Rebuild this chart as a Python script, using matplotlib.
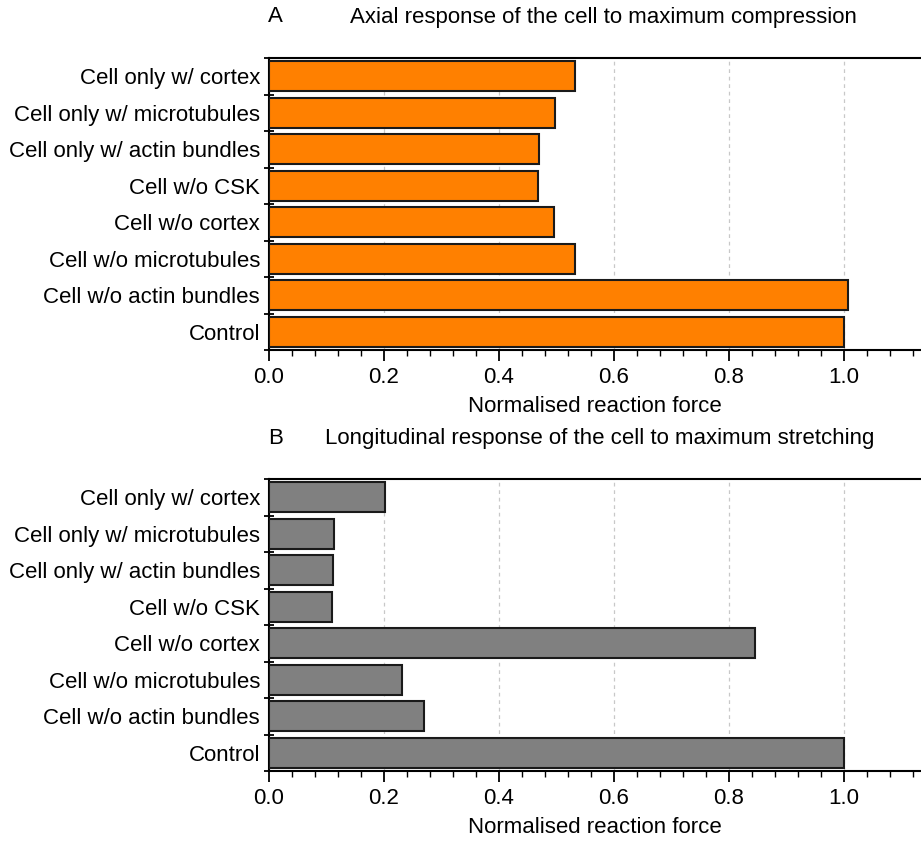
import numpy as np
import matplotlib
matplotlib.use("Agg")
import matplotlib.pyplot as plt
from matplotlib.ticker import MultipleLocator, FixedLocator

plt.rcParams['font.family'] = ['Liberation Sans', 'DejaVu Sans']

# categories, bottom to top
categories = ['Control', 'Cell w/o actin bundles', 'Cell w/o microtubules',
              'Cell w/o cortex', 'Cell w/o CSK', 'Cell only w/ actin bundles',
              'Cell only w/ microtubules', 'Cell only w/ cortex']

compression = [1.0, 1.007, 0.533, 0.496, 0.467, 0.470, 0.497, 0.533]
stretching = [1.0, 0.269, 0.232, 0.845, 0.109, 0.111, 0.1125, 0.2025]

W, H = 921, 841
fig = plt.figure(figsize=(W / 100, H / 100), dpi=100)


def panel(bottom_px, values, color, letter, title, title_x, title_y):
    ax = fig.add_axes([269 / W, 1 - bottom_px / H, (W - 269) / W, 292 / H])
    y = np.arange(len(categories))
    ax.barh(y, values, height=0.81, color=color, edgecolor='#1a1a1a',
            linewidth=1.5, zorder=3)
    ax.set_xlim(0, 1.134)
    ax.set_ylim(-0.5, len(categories) - 0.5)

    ax.xaxis.set_major_locator(MultipleLocator(0.2))
    ax.xaxis.set_minor_locator(MultipleLocator(0.04))
    ax.xaxis.set_major_formatter(matplotlib.ticker.FormatStrFormatter('%.1f'))
    ax.tick_params(axis='x', which='major', length=8, width=1.3, direction='out',
                   labelsize=16, pad=4)
    ax.tick_params(axis='x', which='minor', length=4, width=1.0, direction='out')

    ax.set_yticks(y)
    ax.set_yticklabels(categories)
    ax.yaxis.set_minor_locator(FixedLocator(np.arange(-0.5, len(categories), 1.0)))
    ax.tick_params(axis='y', which='major', length=0, labelsize=16, pad=6.5)
    ax.tick_params(axis='y', which='minor', length=7, width=1.3, direction='inout')

    ax.grid(axis='x', which='major', color='#c8c8c8', linestyle=(0, (3, 3)),
            linewidth=0.9, zorder=0)
    ax.set_axisbelow(True)
    ax.spines['right'].set_visible(False)
    for s in ['top', 'left', 'bottom']:
        ax.spines[s].set_linewidth(1.5)
        ax.spines[s].set_color('black')

    ax.set_xlabel('Normalised reaction force', fontsize=16, labelpad=6)
    fig.text(268 / W, 1 - title_y / H, letter, fontsize=16, ha='left', va='center')
    fig.text(title_x / W, 1 - title_y / H, title, fontsize=16, ha='left', va='center')
    return ax


panel(350, compression, '#ff8000', 'A',
      'Axial response of the cell to maximum compression', 350, 17)
panel(771, stretching, '#808080', 'B',
      'Longitudinal response of the cell to maximum stretching', 325, 438)

plt.savefig('out.png', dpi=100)
plt.close()
